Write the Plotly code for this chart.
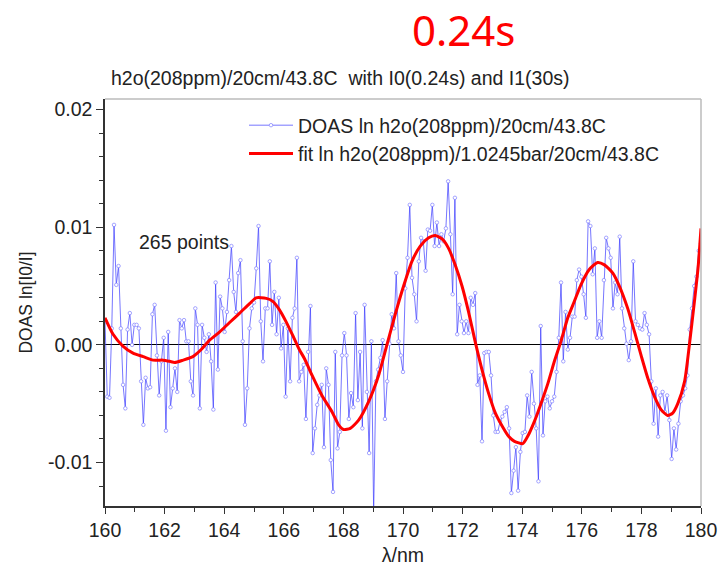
import numpy as np
import plotly.graph_objects as go

# ---- data (values in units of 1e-3) ----
wl_start = 160.0
wl_end = 180.0
n_points = 265

doas_milli = [
    2.0, -4.4, -4.5, 1.4, 10.2, 5.1, 6.7, 1.4, -3.4, -5.4,
    1.3, 2.7, 0.0, 1.7, 1.7, 1.4, -3.1, -6.8, -2.8, -3.7,
    -3.6, 2.6, 3.4, -0.9, -4.3, -1.4, 0.6, -7.3, 1.1, -5.3,
    -3.7, -2.0, -4.0, 2.1, 1.4, 2.1, 0.3, 0.3, -3.1, -4.3,
    3.1, 1.7, -5.4, 1.7, 0.6, -0.6, 0.9, -1.4, -5.5, 5.3,
    -2.1, 4.1, 3.1, 1.1, 2.8, 5.5, 8.4, 4.5, 2.8, 6.1,
    7.2, 0.3, -6.8, -3.7, 1.4, 3.1, 3.6, 6.5, 10.1, 2.0,
    -1.4, 3.1, 3.1, 7.1, 1.7, 4.5, 0.9, 4.0, -0.3, 1.7,
    -4.4, 1.4, -3.1, 2.3, 3.1, 7.4, -3.1, -2.3, -1.7, -6.3,
    -0.6, 3.3, -9.2, -7.1, -5.1, -4.3, -3.4, -8.7, -2.0, -3.4,
    -9.8, -12.5, -0.6, -8.8, -7.4, -0.9, 1.0, -0.9, -6.3, -4.1,
    -5.3, 2.7, -4.7, -0.6, -7.1, 3.4, -4.0, -9.2, 0.3, -14.2,
    -3.1, -2.1, -1.1, 0.4, -6.3, -3.1, 0.1, 2.6, 1.4, 6.1,
    0.3, -0.9, -2.3, 4.8, 7.4, 11.9, 5.7, 4.3, 2.0, 7.1,
    9.1, 8.8, 6.3, 9.8, 9.7, 11.9, 8.4, 10.4, 8.4, 9.4,
    8.8, 9.9, 13.9, 9.4, 4.3, 12.5, 0.9, 3.4, 2.0, 1.0,
    2.0, 1.0, 4.0, 3.4, 4.4, -3.4, -2.6, -8.2, -0.7, -0.6,
    -0.6, -2.6, -6.0, -7.4, -7.4, -6.5, -6.1, -5.7, -5.3, -7.1,
    -12.6, -10.7, -8.7, -12.4, -9.1, -7.5, -7.4, -4.3, -6.1, -2.3,
    -5.0, -7.1, -11.6, 1.6, -7.7, -4.8, -4.4, -5.4, -4.8, -4.4,
    -2.3, 0.6, 5.3, -1.4, 2.8, -0.4, 0.6, 2.4, 2.4, 5.5,
    6.4, 5.8, 4.3, 2.3, 10.5, 10.1, 6.0, 8.2, 0.6, 2.0,
    0.6, 5.5, 9.1, 8.2, 7.4, 3.1, 5.3, 4.3, 9.2, 3.1,
    1.4, 0.1, -1.3, 0.3, 7.1, 2.0, 1.7, 1.4, 1.3, 2.7,
    1.7, 0.9, -3.1, -6.7, -3.7, -7.8, -4.3, -4.0, -5.7, -4.3,
    -6.4, -9.7, -7.1, -8.9, -6.7, -4.8, -4.3, -3.7, -2.6, 1.3,
    3.1, 5.0, 5.8, 8.0, 8.6,
]

fit_wl = [
    160.0, 160.27, 160.6, 160.94, 161.28, 161.61, 161.95, 162.17, 162.34, 162.62,
    162.95, 163.23, 163.51, 163.85, 164.18, 164.52, 164.85, 165.07, 165.41, 165.63,
    165.85, 166.07, 166.3, 166.52, 166.7, 166.95, 167.28, 167.62, 167.84, 168.01,
    168.23, 168.51, 168.85, 169.18, 169.46, 169.74, 170.02, 170.3, 170.58, 170.86,
    171.08, 171.31, 171.53, 171.75, 171.98, 172.2, 172.42, 172.65, 172.87, 173.1,
    173.35, 173.55, 173.74, 174.02, 174.18, 174.41, 174.63, 174.86, 175.08, 175.3,
    175.53, 175.75, 175.97, 176.25, 176.53, 176.76, 177.04, 177.26, 177.54, 177.77,
    177.99, 178.21, 178.44, 178.66, 178.88, 179.05, 179.22, 179.45, 179.61, 179.78,
    179.9, 180.0,
]
fit_milli = [
    2.3, 0.9, -0.1, -0.7, -1.0, -1.3, -1.3, -1.4, -1.5, -1.3,
    -1.0, -0.4, 0.4, 1.1, 1.9, 2.7, 3.5, 4.0, 3.95, 3.7,
    3.0, 2.0, 0.8, -0.4, -1.2, -2.6, -4.3, -5.7, -6.8, -7.2,
    -7.1, -6.4, -4.8, -2.6, 0.0, 2.6, 5.0, 7.1, 8.4, 9.1,
    9.3, 9.0, 8.2, 6.8, 5.0, 2.8, 0.3, -2.1, -4.1, -5.8,
    -7.0, -7.8, -8.2, -8.4, -7.8, -6.5, -5.0, -3.3, -1.4, 0.3,
    2.3, 3.7, 5.1, 6.4, 7.0, 6.8, 6.1, 5.0, 3.1, 1.1,
    -0.9, -2.8, -4.4, -5.5, -6.0, -5.8, -5.0, -3.1, 0.0, 3.7,
    6.5, 9.9,
]

x_ticks = [160, 162, 164, 166, 168, 170, 172, 174, 176, 178, 180]
y_ticks = [-0.01, 0.00, 0.01, 0.02]
y_tick_labels = ["-0.01", "0.00", "0.01", "0.02"]

doas_name = "DOAS ln h2o(208ppm)/20cm/43.8C"
fit_name = "fit ln h2o(208ppm)/1.0245bar/20cm/43.8C"
title_text = "h2o(208ppm)/20cm/43.8C  with I0(0.24s) and I1(30s)"
big_label = "0.24s"
points_label = "265 points"

wl = np.linspace(wl_start, wl_end, n_points)
doas = np.array(doas_milli) * 1e-3
fit = np.array(fit_milli) * 1e-3

FONT = "Liberation Sans, Arial, sans-serif"
FS = 19.5
W, H = 718, 571
ML, MR, MT, MB = 105, 17, 99, 65
PW = W - ML - MR
PH = H - MT - MB


def py(pix):
    """paper y from a pixel row"""
    return (H - MB - pix) / PH


def px(pix):
    """paper x from a pixel column"""
    return (pix - ML) / PW


fig = go.Figure()
fig.add_trace(go.Scatter(
    x=wl, y=doas, mode="lines+markers", name=doas_name,
    line=dict(color="rgba(60,60,255,0.7)", width=1),
    marker=dict(symbol="circle", size=3.5, color="white",
                line=dict(color="rgba(130,130,255,0.9)", width=0.8)),
))
fig.add_trace(go.Scatter(
    x=fit_wl, y=fit, mode="lines", name=fit_name,
    line=dict(color="#ff0000", width=3, shape="spline", smoothing=0.6),
))

fig.update_layout(
    width=W, height=H,
    margin=dict(l=ML, r=MR, t=MT, b=MB, autoexpand=False),
    paper_bgcolor="white", plot_bgcolor="white",
    font=dict(family=FONT, size=FS, color="#222222"),
    showlegend=True,
    legend=dict(x=px(244), y=py(106), xanchor="left", yanchor="top",
                bgcolor="rgba(0,0,0,0)", font=dict(size=FS, family=FONT),
                itemwidth=44, tracegroupgap=0),
    xaxis=dict(range=[wl_start, wl_end], tickvals=x_ticks, automargin=False,
               ticks="outside", ticklen=6, tickwidth=1.3, tickcolor="#333",
               minor=dict(dtick=1, ticks="outside", ticklen=4, tickwidth=1.2, tickcolor="#333"),
               showline=True, linecolor="#333", linewidth=1.5, mirror=False,
               showgrid=False, zeroline=False, ticklabeloverflow="allow",
               title=dict(text="λ/nm", font=dict(size=FS), standoff=8),
               tickfont=dict(size=FS)),
    yaxis=dict(range=[-0.0137, 0.0209], tickvals=y_ticks, ticktext=y_tick_labels,
               automargin=False,
               ticks="outside", ticklen=7, tickwidth=1.3, tickcolor="#333",
               minor=dict(dtick=0.002, tick0=0, ticks="outside", ticklen=4, tickwidth=1.2, tickcolor="#333"),
               showline=True, linecolor="#333", linewidth=1.5, mirror=False,
               showgrid=False, zeroline=True, zerolinecolor="black", zerolinewidth=1.3,
               title=dict(text="DOAS ln[I0/I]", font=dict(size=17.5), standoff=11),
               tickfont=dict(size=FS)),
    shapes=[
        dict(type="line", xref="paper", yref="paper", x0=0, x1=1, y0=1, y1=1,
             line=dict(color="#bbbbbb", width=1.5)),
        dict(type="line", xref="paper", yref="paper", x0=1, x1=1, y0=0, y1=1,
             line=dict(color="#bbbbbb", width=1.5)),
    ],
    annotations=[
        dict(text=big_label, xref="paper", yref="paper", x=px(463.5), y=py(29),
             xanchor="center", yanchor="middle", showarrow=False,
             font=dict(family="Noto Sans, sans-serif", size=42, color="#ff0000")),
        dict(text=title_text, xref="paper", yref="paper", x=px(340), y=py(78),
             xanchor="center", yanchor="middle", showarrow=False,
             font=dict(family=FONT, size=FS, color="#222222")),
        dict(text=points_label, x=162.65, y=0.00875, xref="x", yref="y",
             showarrow=False, xanchor="center", yanchor="middle",
             font=dict(family=FONT, size=FS, color="#222222")),
    ],
)

fig.write_html(
    "out.html",
    config={"displayModeBar": False},
    post_script="document.body.style.margin='0';document.body.style.overflow='hidden';",
)
